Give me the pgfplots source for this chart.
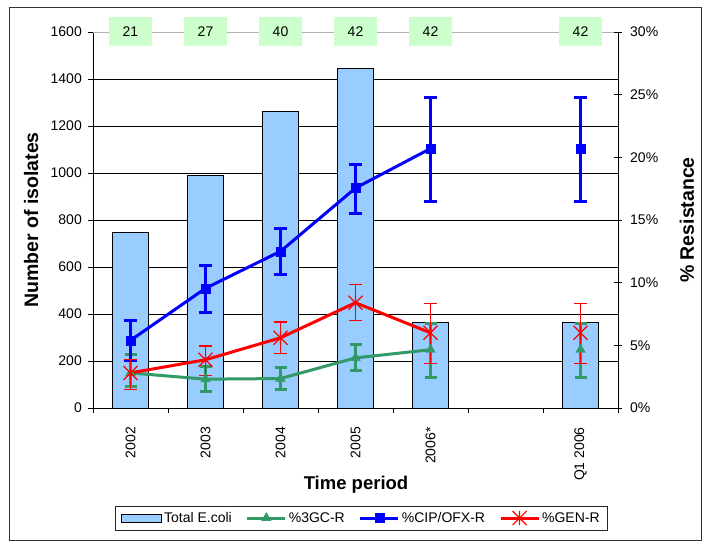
\documentclass[border=0pt]{standalone}
\usepackage{fontspec}
\setmainfont{Liberation Sans}
\usepackage{pgfplots}
\pgfplotsset{compat=1.18}
\definecolor{barblue}{HTML}{99CCFF}
\definecolor{gcgreen}{HTML}{339966}
\definecolor{cipblue}{HTML}{0000FF}
\definecolor{genred}{HTML}{FF0000}
\definecolor{boxgreen}{HTML}{CCFFCC}
\pgfdeclareplotmark{xstar}{%
  \pgfpathmoveto{\pgfqpoint{-\pgfplotmarksize}{-\pgfplotmarksize}}%
  \pgfpathlineto{\pgfqpoint{\pgfplotmarksize}{\pgfplotmarksize}}%
  \pgfpathmoveto{\pgfqpoint{-\pgfplotmarksize}{\pgfplotmarksize}}%
  \pgfpathlineto{\pgfqpoint{\pgfplotmarksize}{-\pgfplotmarksize}}%
  \pgfpathmoveto{\pgfqpoint{0pt}{-\pgfplotmarksize}}%
  \pgfpathlineto{\pgfqpoint{0pt}{\pgfplotmarksize}}%
  \pgfusepathqstroke}
\newcommand{\tf}{\fontsize{14}{16}\selectfont}
\begin{document}
\begin{tikzpicture}
\useasboundingbox (0pt,0pt) rectangle (708pt,544pt);
\draw[line width=1pt, black!80] (9pt,4pt) rectangle (701pt,536pt);
\begin{axis}[
  at={(93pt,136pt)}, anchor=south west, scale only axis,
  width=525pt, height=376pt,
  xmin=-0.5, xmax=6.5, ymin=0, ymax=1600,
  clip=false,
  axis x line*=bottom, axis y line*=left,
  axis line style={line width=0.9pt, black},
  tick align=outside,
  xtick={0,...,6},
  xticklabels={2002,2003,2004,2005,2006*,,Q1 2006},
  major x tick style={draw=none},
  minor xtick={-0.5,0.5,...,6.5},
  minor x tick style={line width=0.8pt, black},
  minor tick length=5pt,
  major tick length=5pt,
  xticklabel style={font=\tf, rotate=90, anchor=east, inner sep=0pt},
  xticklabel shift=14pt,
  ytick={0,200,...,1400},
  extra y ticks={1600},
  extra y tick style={grid=major, major grid style={gray!60, line width=0.8pt}},
  yticklabel style={font=\tf, inner sep=0pt, /pgf/number format/1000 sep={}, /pgf/number format/assume math mode=true},
  yticklabel shift=6pt,
  y tick style={line width=0.8pt, black},
  ymajorgrids, major grid style={black, line width=0.8pt},
  xlabel={Time period},
  xlabel style={font=\fontsize{18.5}{20}\selectfont\bfseries, at={(axis description cs:0.501,-0.2048)}, anchor=center},
  ylabel={Number of isolates},
  ylabel style={font=\fontsize{19.5}{22}\selectfont\bfseries, at={(axis description cs:-0.118,0.5)}, anchor=center},
]
\addplot[ybar, bar width=0.48, fill=barblue, draw=black, line width=1pt]
  coordinates {(0,745) (1,990) (2,1260) (3,1445) (4,365) (6,365)};
\addplot[draw=none, mark=none, point meta=explicit symbolic,
  nodes near coords,
  every node near coord/.append style={fill=boxgreen, minimum width=43pt, minimum height=29pt, inner sep=0pt, font=\tf, anchor=center}]
  coordinates {(0,1600)[21] (1,1600)[27] (2,1600)[40] (3,1600)[42] (4,1600)[42] (6,1600)[42]};
\end{axis}
\begin{axis}[
  at={(93pt,136pt)}, anchor=south west, scale only axis,
  width=525pt, height=376pt,
  xmin=-0.5, xmax=6.5, ymin=0, ymax=30,
  axis x line=none, axis y line*=right,
  axis line style={line width=0.9pt, black},
  ytick={0,5,...,30},
  yticklabels={0\%,5\%,10\%,15\%,20\%,25\%,30\%},
  tick align=center, major tick length=8pt,
  y tick style={line width=0.8pt, black},
  yticklabel style={font=\tf, inner sep=0pt},
  yticklabel shift=8pt,
  ylabel={\% Resistance},
  every axis y label/.style={font=\fontsize{19.5}{22}\selectfont\bfseries, at={(axis description cs:1.131,0.5)}, anchor=center, rotate=90},
  legend columns=4,
  legend style={font=\fontsize{14}{16}\selectfont, draw=black!85,
    at={(axis description cs:0.5114,-0.2926)}, anchor=center,
    inner xsep=6pt, inner ysep=4pt,
    /tikz/every even column/.append style={column sep=12pt}},
  legend cell align=left,
  legend image code/.code={\draw[mark repeat=2,mark phase=2,#1] plot coordinates {(0pt,0pt) (19pt,0pt) (38pt,0pt)};},
]
\addlegendimage{legend image code/.code={\draw[fill=barblue,draw=black,line width=0.8pt] (0pt,-4pt) rectangle (40pt,4pt);}}
\addlegendentry{Total E.coli}
% 3GC
\addplot[gcgreen, line width=3pt, mark=triangle*, mark size=5.5pt, mark options={solid, line width=0.4pt},
  error bars/.cd, y dir=both, y explicit,
  error bar style={line width=3pt, gcgreen},
  error mark options={rotate=90, line width=3pt, mark size=6pt, gcgreen}]
  coordinates {
  (0,2.8) += (0,1.45) -= (0,1.1)
  (1,2.3) += (0,1.0) -= (0,0.95)
  (2,2.35) += (0,0.85) -= (0,0.85)
  (3,4.0) += (0,1.1) -= (0,1.0)
  (4,4.65) += (0,2.1) -= (0,2.2)
  };
\addlegendentry{\%3GC-R}
% CIP
\addplot[cipblue, line width=3pt, mark=square*, mark size=4.5pt, mark options={solid, line width=0.4pt},
  error bars/.cd, y dir=both, y explicit,
  error bar style={line width=3pt, cipblue},
  error mark options={rotate=90, line width=3pt, mark size=6.5pt, cipblue}]
  coordinates {
  (0,5.4) += (0,1.6) -= (0,1.6)
  (1,9.55) += (0,1.85) -= (0,1.95)
  (2,12.5) += (0,1.85) -= (0,1.85)
  (3,17.55) += (0,1.85) -= (0,2.05)
  (4,20.7) += (0,4.05) -= (0,4.2)
  };
\addlegendentry{\%CIP/OFX-R}
% GEN
\addplot[genred, line width=3pt, mark=xstar, mark size=7pt, mark options={solid, line width=1.2pt},
  error bars/.cd, y dir=both, y explicit,
  error bar style={line width=1.3pt, genred},
  error mark options={rotate=90, line width=1.3pt, mark size=6.5pt, genred}]
  coordinates {
  (0,2.8) += (0,1.05) -= (0,1.35)
  (1,3.85) += (0,1.1) -= (0,1.25)
  (2,5.6) += (0,1.25) -= (0,1.25)
  (3,8.4) += (0,1.45) -= (0,1.4)
  (4,6.0) += (0,2.35) -= (0,2.45)
  };
\addlegendentry{\%GEN-R}
% Q1 2006 points
\addplot[forget plot, gcgreen, only marks, mark=triangle*, mark size=5.5pt, mark options={solid, line width=0.4pt},
  error bars/.cd, y dir=both, y explicit,
  error bar style={line width=3pt, gcgreen},
  error mark options={rotate=90, line width=3pt, mark size=6pt, gcgreen}]
  coordinates {(6,4.65) += (0,2.1) -= (0,2.2)};
\addplot[forget plot, cipblue, only marks, mark=square*, mark size=4.5pt, mark options={solid, line width=0.4pt},
  error bars/.cd, y dir=both, y explicit,
  error bar style={line width=3pt, cipblue},
  error mark options={rotate=90, line width=3pt, mark size=6.5pt, cipblue}]
  coordinates {(6,20.7) += (0,4.05) -= (0,4.2)};
\addplot[forget plot, genred, only marks, mark=xstar, mark size=7pt, mark options={solid, line width=1.2pt},
  error bars/.cd, y dir=both, y explicit,
  error bar style={line width=1.3pt, genred},
  error mark options={rotate=90, line width=1.3pt, mark size=6.5pt, genred}]
  coordinates {(6,6.0) += (0,2.35) -= (0,2.45)};
\end{axis}
\end{tikzpicture}
\end{document}
